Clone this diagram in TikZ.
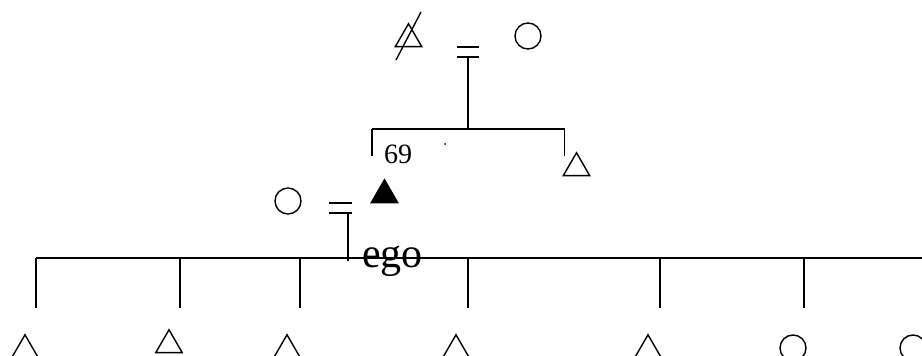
\documentclass[tikz,border=0pt]{standalone}
\usepackage{fontspec}
\setmainfont{Liberation Serif}
\usetikzlibrary{shapes.geometric,calc}
\begin{document}
\begin{tikzpicture}[x=1pt,y=-1pt,
  ln/.style={line width=1.4pt, black},
  male/.style={regular polygon, regular polygon sides=3, draw, line width=1.4pt, minimum size=30.5pt, inner sep=0pt},
  egotri/.style={male, fill=black},
  female/.style={circle, draw, line width=1.4pt, minimum size=26pt, inner sep=0pt},
  lbl/.style={inner sep=0pt, anchor=base west}]
\useasboundingbox (0,0) rectangle (922,356);
\clip (0,0) rectangle (922,356);
% parents
\node[male] (fa) at (408.5,39) {};
\coordinate (sl1) at ($(fa)+(-12.5,21)$);
\coordinate (sl2) at ($(fa)+(12.5,-27)$);
\draw[ln] (sl1) -- (sl2);
\node[female] (mo) at (528,36) {};
\coordinate (eqA) at (468,47);
\coordinate (eqB) at (468,57);
\draw[ln] ($(eqA)+(-11,0)$) -- ($(eqA)+(11,0)$);
\draw[ln] ($(eqB)+(-11,0)$) -- ($(eqB)+(11,0)$);
\coordinate (sibbar) at (468,129);
\draw[ln] (eqB) -- (sibbar);
\coordinate (sL) at (372,129);
\coordinate (sR) at (564.5,129);
\draw[ln] (sL) -- (sR);
\coordinate (sLd) at (372,156);
\coordinate (sRd) at (564.5,156);
\draw[ln] (sL) -- (sLd);
\draw[ln] (sR) -- (sRd);
\node[lbl, font=\fontsize{28}{30}\selectfont] (n69) at (384,163) {69};
\fill (445,144) circle (1pt);
\node[male] (br) at (576.5,168) {};
% ego and wife
\node[egotri] (ego) at (384.5,195) {};
\node[female] (wi) at (288,201) {};
\coordinate (eqC) at (340.5,203);
\coordinate (eqD) at (340.5,213);
\draw[ln] ($(eqC)+(-11.5,0)$) -- ($(eqC)+(11.5,0)$);
\draw[ln] ($(eqD)+(-11.5,0)$) -- ($(eqD)+(11.5,0)$);
\coordinate (mtop) at (348,213);
\coordinate (mbot) at (348,261);
\draw[ln] (mtop) -- (mbot);
\node[lbl, font=\fontsize{42}{44}\selectfont] (egolbl) at (362,267) {ego};
% children bar
\coordinate (cL) at (36,258);
\coordinate (cR) at (922,258);
\draw[ln] (cL) -- (cR);
\foreach \x/\n in {36/a,180/b,300/c,468/d,660/e,804/f}{
  \coordinate (t\n) at (\x,258);
  \coordinate (b\n) at (\x,308);
  \draw[ln] (t\n) -- (b\n);
}
\node[male] (c1) at (25,350) {};
\node[male] (c2) at (169,345) {};
\node[male] (c3) at (287,350) {};
\node[male] (c4) at (456,350) {};
\node[male] (c5) at (648,350) {};
\node[female] (c6) at (793,348) {};
\node[female] (c7) at (913,348) {};
\end{tikzpicture}
\end{document}
